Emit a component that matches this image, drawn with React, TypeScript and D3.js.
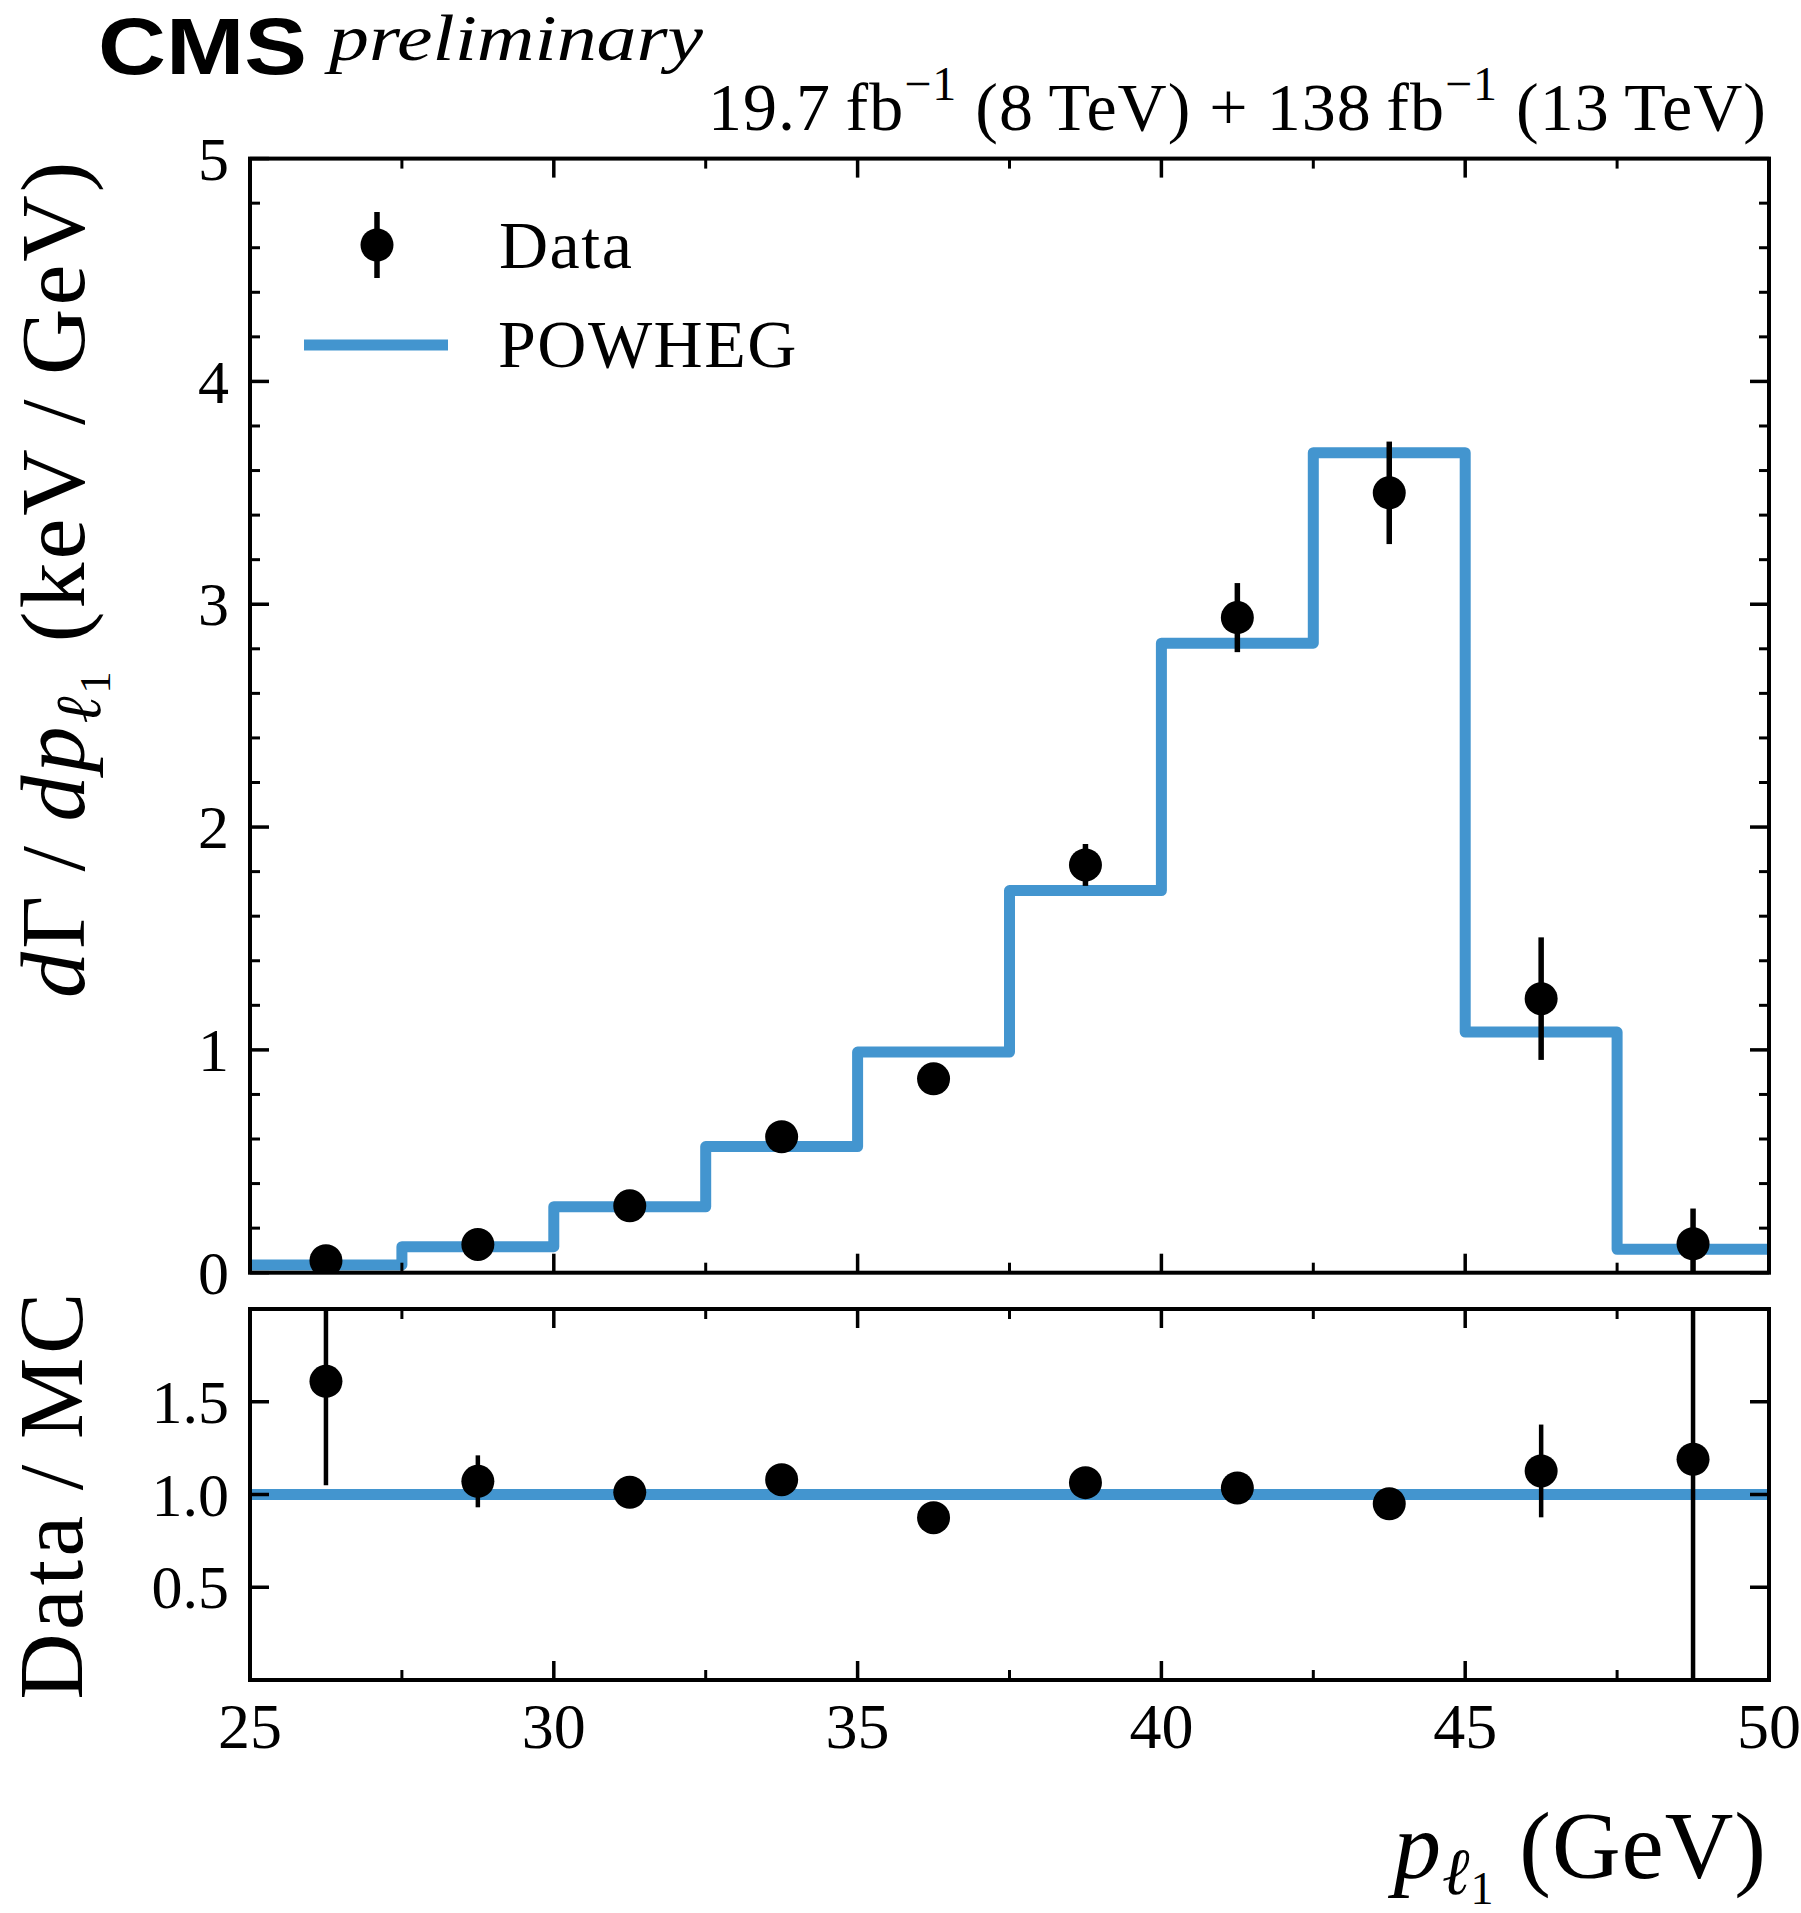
import { useRef, useEffect } from "react";
import * as d3 from "d3";

// bin edges of p_l1 (GeV)
const binEdges = [25, 27.5, 30, 32.5, 35, 37.5, 40, 42.5, 45, 47.5, 50];
// dGamma/dp (keV/GeV)
const powhegVals = [0.035, 0.117, 0.296, 0.566, 0.99, 1.715, 2.825, 3.68, 1.08, 0.105];
const dataVals = [0.054, 0.127, 0.3, 0.61, 0.87, 1.83, 2.94, 3.5, 1.23, 0.13];
const dataErrs = [0.02, 0.017, 0.02, 0.02, 0.03, 0.094, 0.155, 0.23, 0.275, 0.158];
// Data / MC
const ratioVals = [1.61, 1.071, 1.012, 1.08, 0.875, 1.064, 1.035, 0.95, 1.127, 1.19];
const ratioErrs = [0.56, 0.14, 0.03, 0.03, 0.03, 0.05, 0.05, 0.06, 0.25, 1.3];

const xTicks = [25, 30, 35, 40, 45, 50];
const xMinorTicks = [27.5, 32.5, 37.5, 42.5, 47.5];
const mainYTicks = [0, 1, 2, 3, 4, 5];
const ratioYTicks = [0.5, 1.0, 1.5];

const BLUE = "#4395cf";
const SERIF = "'Liberation Serif', 'DejaVu Serif', serif";

const App = () => {
  const svgRef = useRef(null);

  useEffect(() => {
    const W = 1801;
    const H = 1913;
    const left = 250;
    const right = 1769;
    const main = { top: 158.6, bottom: 1272.7 };
    const ratio = { top: 1309, bottom: 1680 };

    const root = d3.select(svgRef.current);
    root.selectAll("*").remove();
    root.attr("width", W).attr("height", H).attr("viewBox", `0 0 ${W} ${H}`);

    const x = d3.scaleLinear().domain([25, 50]).range([left, right]);
    const yMain = d3.scaleLinear().domain([0, 5]).range([main.bottom, main.top]);
    const yRatio = d3.scaleLinear().domain([0, 2]).range([ratio.bottom, ratio.top]);

    const centers = binEdges.slice(0, -1).map((e, i) => (e + binEdges[i + 1]) / 2);

    const defs = root.append("defs");
    defs
      .append("clipPath")
      .attr("id", "clipMain")
      .append("rect")
      .attr("x", left)
      .attr("y", main.top)
      .attr("width", right - left)
      .attr("height", main.bottom - main.top);
    defs
      .append("clipPath")
      .attr("id", "clipRatio")
      .append("rect")
      .attr("x", left)
      .attr("y", ratio.top)
      .attr("width", right - left)
      .attr("height", ratio.bottom - ratio.top);

    // ---------- main panel ----------
    const stepPts: [number, number][] = binEdges.map((e, i) => [
      e,
      powhegVals[Math.min(i, powhegVals.length - 1)],
    ]);
    const step = d3
      .line<[number, number]>()
      .x((d) => x(d[0]))
      .y((d) => yMain(d[1]))
      .curve(d3.curveStepAfter);

    const gMain = root.append("g").attr("clip-path", "url(#clipMain)");
    gMain
      .append("path")
      .attr("d", step(stepPts))
      .attr("fill", "none")
      .attr("stroke", BLUE)
      .attr("stroke-width", 11)
      .attr("stroke-linejoin", "round");

    gMain
      .selectAll("line.err")
      .data(centers)
      .join("line")
      .attr("class", "err")
      .attr("x1", (d) => x(d))
      .attr("x2", (d) => x(d))
      .attr("y1", (d, i) => yMain(dataVals[i] - dataErrs[i]))
      .attr("y2", (d, i) => yMain(dataVals[i] + dataErrs[i]))
      .attr("stroke", "#000")
      .attr("stroke-width", 5.5);
    gMain
      .selectAll("circle")
      .data(centers)
      .join("circle")
      .attr("cx", (d) => x(d))
      .attr("cy", (d, i) => yMain(dataVals[i]))
      .attr("r", 16.5)
      .attr("fill", "#000");

    // ---------- ratio panel ----------
    const gRatio = root.append("g").attr("clip-path", "url(#clipRatio)");
    gRatio
      .append("line")
      .attr("x1", x(25))
      .attr("x2", x(50))
      .attr("y1", yRatio(1))
      .attr("y2", yRatio(1))
      .attr("stroke", BLUE)
      .attr("stroke-width", 11);
    gRatio
      .selectAll("line.err")
      .data(centers)
      .join("line")
      .attr("class", "err")
      .attr("x1", (d) => x(d))
      .attr("x2", (d) => x(d))
      .attr("y1", (d, i) => yRatio(ratioVals[i] - ratioErrs[i]))
      .attr("y2", (d, i) => yRatio(ratioVals[i] + ratioErrs[i]))
      .attr("stroke", "#000")
      .attr("stroke-width", 4.5);
    gRatio
      .selectAll("circle")
      .data(centers)
      .join("circle")
      .attr("cx", (d) => x(d))
      .attr("cy", (d, i) => yRatio(ratioVals[i]))
      .attr("r", 16.5)
      .attr("fill", "#000");

    // ---------- frames and ticks ----------
    const drawFrame = (top: number, bottom: number, yScale: d3.ScaleLinear<number, number>, yMajor: number[], yMinor: number[], fmt: (v: number) => string) => {
      const g = root.append("g").attr("stroke", "#000");
      const major = 19;
      const minor = 10;
      xTicks.forEach((t) => {
        g.append("line").attr("x1", x(t)).attr("x2", x(t)).attr("y1", bottom).attr("y2", bottom - major).attr("stroke-width", 3.5);
        g.append("line").attr("x1", x(t)).attr("x2", x(t)).attr("y1", top).attr("y2", top + major).attr("stroke-width", 3.5);
      });
      xMinorTicks.forEach((t) => {
        g.append("line").attr("x1", x(t)).attr("x2", x(t)).attr("y1", bottom).attr("y2", bottom - minor).attr("stroke-width", 3);
        g.append("line").attr("x1", x(t)).attr("x2", x(t)).attr("y1", top).attr("y2", top + minor).attr("stroke-width", 3);
      });
      yMajor.forEach((t) => {
        g.append("line").attr("x1", left).attr("x2", left + major).attr("y1", yScale(t)).attr("y2", yScale(t)).attr("stroke-width", 3.5);
        g.append("line").attr("x1", right).attr("x2", right - major).attr("y1", yScale(t)).attr("y2", yScale(t)).attr("stroke-width", 3.5);
      });
      yMinor.forEach((t) => {
        g.append("line").attr("x1", left).attr("x2", left + minor).attr("y1", yScale(t)).attr("y2", yScale(t)).attr("stroke-width", 3);
        g.append("line").attr("x1", right).attr("x2", right - minor).attr("y1", yScale(t)).attr("y2", yScale(t)).attr("stroke-width", 3);
      });
      g.append("rect")
        .attr("x", left)
        .attr("y", top)
        .attr("width", right - left)
        .attr("height", bottom - top)
        .attr("fill", "none")
        .attr("stroke-width", 4);

      root
        .append("g")
        .attr("font-family", SERIF)
        .attr("font-size", 62)
        .attr("text-anchor", "end")
        .selectAll("text")
        .data(yMajor)
        .join("text")
        .attr("x", 229)
        .attr("y", (d) => yScale(d))
        .attr("dy", "0.34em")
        .text((d) => fmt(d));
    };

    const mainMinor = d3.range(0, 5.001, 0.2).filter((v) => Math.abs(v - Math.round(v)) > 1e-6);
    drawFrame(main.top, main.bottom, yMain, mainYTicks, mainMinor, (v) => String(v));
    drawFrame(ratio.top, ratio.bottom, yRatio, ratioYTicks, [], d3.format(".1f"));

    root
      .append("g")
      .attr("font-family", SERIF)
      .attr("font-size", 64)
      .attr("text-anchor", "middle")
      .selectAll("text")
      .data(xTicks)
      .join("text")
      .attr("x", (d) => x(d))
      .attr("y", 1748)
      .text((d) => d);

    // ---------- axis titles ----------
    const yTitle = root
      .append("text")
      .attr("transform", `translate(84, ${main.top}) rotate(-90)`)
      .attr("text-anchor", "end")
      .attr("font-family", SERIF)
      .attr("font-size", 92)
      .attr("letter-spacing", 3);
    yTitle.append("tspan").attr("font-style", "italic").text("d");
    yTitle.append("tspan").text("Γ\u2009/\u2009");
    yTitle.append("tspan").attr("font-style", "italic").text("dp");
    yTitle.append("tspan").attr("font-style", "italic").attr("font-size", 64).attr("dy", 16).text("ℓ");
    yTitle.append("tspan").attr("font-size", 45).attr("dy", 10).text("1");
    yTitle.append("tspan").attr("dy", -26).text(" (keV\u2009/\u2009GeV)");

    root
      .append("text")
      .attr("transform", `translate(82, ${(ratio.top + ratio.bottom) / 2}) rotate(-90)`)
      .attr("text-anchor", "middle")
      .attr("font-family", SERIF)
      .attr("font-size", 92)
      .attr("letter-spacing", 3.5)
      .text("Data\u2009/\u2009MC");

    const xTitle = root
      .append("text")
      .attr("x", 1767)
      .attr("y", 1878)
      .attr("text-anchor", "end")
      .attr("font-family", SERIF)
      .attr("font-size", 95)
      .attr("letter-spacing", 1);
    xTitle.append("tspan").attr("font-style", "italic").text("p");
    xTitle.append("tspan").attr("font-style", "italic").attr("font-size", 66).attr("dy", 16).text("ℓ");
    xTitle.append("tspan").attr("font-size", 46).attr("dy", 10).text("1");
    xTitle.append("tspan").attr("dy", -26).text(" (GeV)");

    // ---------- header ----------
    root
      .append("text")
      .attr("x", 98)
      .attr("y", 74)
      .attr("font-family", "'Liberation Sans', Arial, sans-serif")
      .attr("font-weight", "bold")
      .attr("font-size", 80)
      .attr("textLength", 209)
      .attr("lengthAdjust", "spacingAndGlyphs")
      .text("CMS");
    root
      .append("text")
      .attr("x", 329)
      .attr("y", 60)
      .attr("font-family", SERIF)
      .attr("font-style", "italic")
      .attr("font-size", 66)
      .attr("textLength", 374)
      .attr("lengthAdjust", "spacingAndGlyphs")
      .text("preliminary");

    const lumi = root
      .append("text")
      .attr("x", 1767)
      .attr("y", 130)
      .attr("text-anchor", "end")
      .attr("font-family", SERIF)
      .attr("font-size", 68)
      .attr("letter-spacing", 1);
    lumi.append("tspan").text("19.7\u2009fb");
    lumi.append("tspan").attr("font-size", 48).attr("dy", -30).text("\u22121");
    lumi.append("tspan").attr("dy", 30).text(" (8\u2009TeV) + 138\u2009fb");
    lumi.append("tspan").attr("font-size", 48).attr("dy", -30).text("\u22121");
    lumi.append("tspan").attr("dy", 30).text(" (13\u2009TeV)");

    // ---------- legend ----------
    const leg = root.append("g").attr("font-family", SERIF).attr("font-size", 68).attr("letter-spacing", 1.5);
    leg.append("line").attr("x1", 377).attr("x2", 377).attr("y1", 212).attr("y2", 278).attr("stroke", "#000").attr("stroke-width", 5.5);
    leg.append("circle").attr("cx", 377).attr("cy", 245).attr("r", 16.5).attr("fill", "#000");
    leg.append("text").attr("x", 499).attr("y", 268).text("Data");
    leg.append("line").attr("x1", 304).attr("x2", 448).attr("y1", 345).attr("y2", 345).attr("stroke", BLUE).attr("stroke-width", 11);
    leg.append("text").attr("x", 498).attr("y", 367).text("POWHEG");
  }, []);

  return (
    <div style={{ position: "absolute", left: 0, top: 0, background: "#fff" }}>
      <svg ref={svgRef} style={{ display: "block" }}></svg>
    </div>
  );
};

export default App;
